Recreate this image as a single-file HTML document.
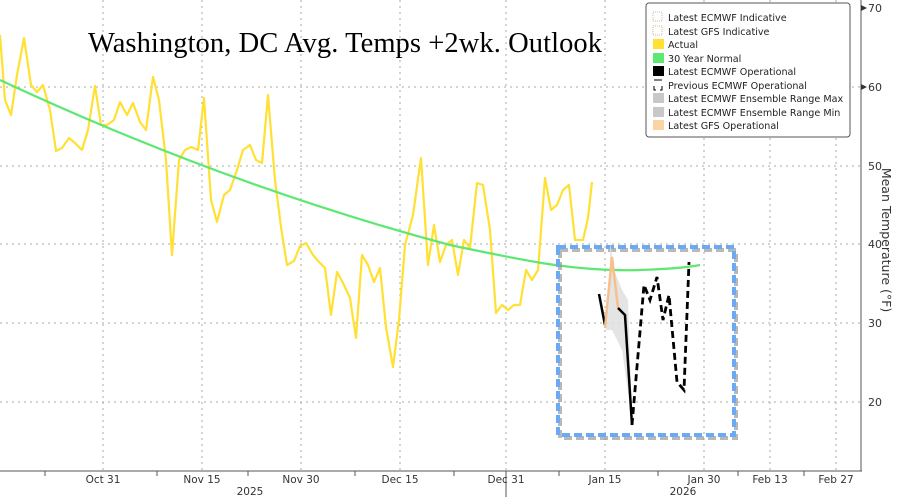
<!DOCTYPE html><html><head><style>body{margin:0;background:#fff}svg{display:block}</style></head><body>
<svg width="900" height="497" viewBox="0 0 900 497" xmlns="http://www.w3.org/2000/svg" font-family="'DejaVu Sans','Liberation Sans',sans-serif">
<g stroke="#aaa" stroke-dasharray="2,4" stroke-width="1">
<line x1="0" x2="860" y1="244" y2="244"/><line x1="0" x2="860" y1="323" y2="323"/><line x1="0" x2="860" y1="402" y2="402"/><line x1="0" x2="860" y1="166" y2="166"/><line x1="0" x2="860" y1="87" y2="87"/>
<line x1="103" x2="103" y1="0" y2="470"/><line x1="202" x2="202" y1="0" y2="470"/><line x1="301" x2="301" y1="0" y2="470"/><line x1="400" x2="400" y1="0" y2="470"/><line x1="506" x2="506" y1="0" y2="470"/><line x1="605" x2="605" y1="0" y2="470"/><line x1="704" x2="704" y1="0" y2="470"/><line x1="770" x2="770" y1="0" y2="470"/><line x1="836" x2="836" y1="0" y2="470"/>
</g>
<text x="88" y="52" font-family="'Liberation Serif',serif" font-size="28.5" textLength="514">Washington, DC Avg. Temps +2wk. Outlook</text>
<polyline fill="none" stroke="#ffe033" stroke-width="2.2" stroke-linejoin="round" points="0,35 5,100 11,115 17,75 24,38 31,85 37,92 43,85 50,110 56,151 62,148 69,138 75,143 82,150 88,130 95,86 101,125 107,125 114,120 120,102 127,115 133,103 140,122 146,130 153,77 159,100 166,160 172,255 179,160 185,150 191,147 198,150 204,98 211,200 217,222 224,195 230,190 237,170 243,150 250,145 256,160 262,163 268,95 275,180 281,227 287,265 294,261 300,246 306,243 313,255 319,262 325,268 331,315 337,272 343,283 350,298 356,338 362,255 368,265 374,282 380,268 386,327 393,367 399,320 405,245 413,215 421,158 428,265 434,225 440,262 446,245 452,240 458,275 464,240 470,248 477,183 483,185 490,230 496,313 502,305 508,310 514,305 520,305 526,270 532,280 538,270 545,178 551,210 557,205 563,190 569,185 575,240 583,240 588,218 592,182"/>
<path d="M0,80 C150,150 300,205 450,245 C530,262 580,272 640,270 C670,269 690,267 700,265" fill="none" stroke="#5ee872" stroke-width="2.2"/>
<rect x="560" y="250" width="176" height="188" fill="none" stroke="#888" stroke-width="4" stroke-dasharray="8,4" opacity="0.6"/>
<rect x="558" y="247" width="176" height="188" fill="none" stroke="#6aaaf5" stroke-width="4" stroke-dasharray="8,4"/>
<polygon points="610,240 614,270 622,290 628,300 632,420 622,350 612,330 606,330 610,290" fill="#ddd" opacity="0.8"/>
<polyline fill="none" stroke="#000" stroke-width="2.5" points="599,294 605,325"/>
<polyline fill="none" stroke="#f7c08a" stroke-width="2.5" points="605,328 612,257 618,308"/>
<polyline fill="none" stroke="#000" stroke-width="2.5" points="618,308 625,315 632,425"/>
<polyline fill="none" stroke="#000" stroke-width="2.8" stroke-dasharray="7,4" points="632,425 644,285 650,300 657,277 663,320 669,295 677,382 684,390 689,262"/>
<line x1="0" x2="862" y1="471" y2="471" stroke="#555"/>
<line x1="861" x2="861" y1="0" y2="471" stroke="#555"/>
<g stroke="#555"><line x1="45" x2="45" y1="471" y2="476"/><line x1="157" x2="157" y1="471" y2="476"/><line x1="248" x2="248" y1="471" y2="476"/><line x1="355" x2="355" y1="471" y2="476"/><line x1="454" x2="454" y1="471" y2="476"/><line x1="559" x2="559" y1="471" y2="476"/><line x1="658" x2="658" y1="471" y2="476"/><line x1="738" x2="738" y1="471" y2="476"/><line x1="804" x2="804" y1="471" y2="476"/><line x1="506" x2="506" y1="471" y2="497"/></g>
<g font-size="10.5" fill="#333" text-anchor="middle">
<text x="103" y="483">Oct 31</text><text x="202" y="483">Nov 15</text><text x="301" y="483">Nov 30</text><text x="400" y="483">Dec 15</text><text x="506" y="483">Dec 31</text><text x="605" y="483">Jan 15</text><text x="704" y="483">Jan 30</text><text x="770" y="483">Feb 13</text><text x="836" y="483">Feb 27</text>
<text x="250" y="495">2025</text><text x="683" y="495">2026</text></g>
<g font-size="11" fill="#333"><text x="868" y="12">70</text><text x="868" y="91">60</text><text x="868" y="170">50</text><text x="868" y="248">40</text><text x="868" y="327">30</text><text x="868" y="406">20</text></g>
<g fill="#333"><polygon points="861,5 867,8 861,11"/><polygon points="861,84 867,87 861,90"/></g>
<text transform="translate(882,240) rotate(90)" font-size="12.5" fill="#333" text-anchor="middle">Mean Temperature (°F)</text>
<rect x="646" y="3" width="204" height="134" rx="3" fill="#fff" stroke="#555"/>
<g font-size="9.6" fill="#222">
<rect x="653" y="12" width="9" height="9" fill="none" stroke="#bbb" stroke-dasharray="1,1"/><text x="668" y="21">Latest ECMWF Indicative</text>
<rect x="653" y="26" width="9" height="9" fill="none" stroke="#d9b48a" stroke-dasharray="1,1"/><text x="668" y="35">Latest GFS Indicative</text>
<rect x="653" y="39" width="11" height="10" fill="#ffe033"/><text x="668" y="48">Actual</text>
<rect x="653" y="53" width="11" height="10" fill="#5ee872"/><text x="668" y="62">30 Year Normal</text>
<rect x="653" y="66" width="11" height="10" fill="#000"/><text x="668" y="75">Latest ECMWF Operational</text>
<path d="M654,80 h8 M654,86 v4 h2 M662,86 v4 h-2" stroke="#000" fill="none"/><text x="668" y="89">Previous ECMWF Operational</text>
<rect x="653" y="93" width="11" height="10" fill="#c8c8c8"/><text x="668" y="102">Latest ECMWF Ensemble Range Max</text>
<rect x="653" y="107" width="11" height="10" fill="#c8c8c8"/><text x="668" y="116">Latest ECMWF Ensemble Range Min</text>
<rect x="653" y="120" width="11" height="10" fill="#fcd3a6"/><text x="668" y="129">Latest GFS Operational</text>
</g>
</svg></body></html>
